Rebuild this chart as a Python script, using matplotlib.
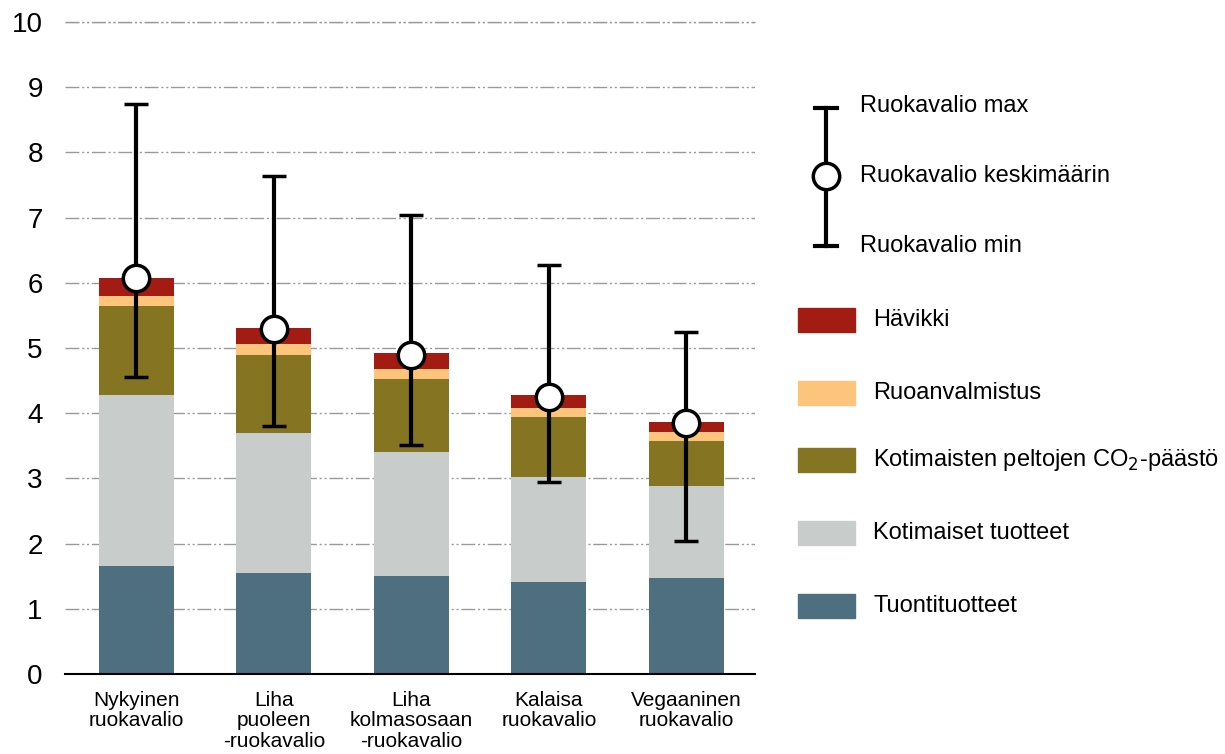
import matplotlib
matplotlib.use('Agg')
import matplotlib.pyplot as plt
import matplotlib.patches as mpatches
import matplotlib.lines as mlines
import numpy as np

plt.rcParams['font.family'] = ['Liberation Sans', 'DejaVu Sans']

# ruokavaliot
categories = ['Nykyinen\nruokavalio', 'Liha\npuoleen\n-ruokavalio', 'Liha\nkolmasosaan\n-ruokavalio',
              'Kalaisa\nruokavalio', 'Vegaaninen\nruokavalio']

# kerrokset alhaalta ylös
tuonti = [1.66, 1.55, 1.50, 1.41, 1.47]
kotimaiset = [2.62, 2.15, 1.90, 1.61, 1.41]
co2 = [1.36, 1.19, 1.12, 0.92, 0.69]
ruoanvalmistus = [0.16, 0.17, 0.16, 0.14, 0.14]
havikki = [0.27, 0.25, 0.24, 0.20, 0.15]

# keskiarvo, min, max
keskiarvo = [6.07, 5.29, 4.89, 4.25, 3.85]
minimi = [4.56, 3.80, 3.51, 2.94, 2.04]
maksimi = [8.74, 7.64, 7.04, 6.27, 5.25]

layer_names = ['Tuontituotteet', 'Kotimaiset tuotteet', 'Kotimaisten peltojen CO$_2$-päästö',
               'Ruoanvalmistus', 'Hävikki']
layer_colors = ['#4e6f80', '#c8cccb', '#857421', '#fdc47b', '#a31c14']

fig = plt.figure(figsize=(12.25, 7.54), dpi=100)
ax = fig.add_axes([65 / 1225, 80 / 754, 690 / 1225, 652 / 754])

x = np.arange(len(categories))
bottom = np.zeros(len(categories))
for vals, col in zip([tuonti, kotimaiset, co2, ruoanvalmistus, havikki], layer_colors):
    ax.bar(x, vals, width=0.545, bottom=bottom, color=col, zorder=2)
    bottom += np.array(vals)

yerr = [np.array(keskiarvo) - np.array(minimi), np.array(maksimi) - np.array(keskiarvo)]
ax.errorbar(x, keskiarvo, yerr=yerr, fmt='o', color='black', ecolor='black', elinewidth=3,
            capsize=8.5, capthick=3, markersize=19, markerfacecolor='white',
            markeredgecolor='black', markeredgewidth=2.5, zorder=3)

ax.set_xlim(-0.52, 4.5)
ax.set_ylim(0, 10)
ax.set_yticks(range(0, 11))
ax.set_xticks(x)
ax.set_xticklabels(categories, fontsize=15, linespacing=1.1)
ax.tick_params(axis='y', length=0, labelsize=20, pad=16)
ax.tick_params(axis='x', length=0, pad=12)
for s in ['top', 'right', 'left']:
    ax.spines[s].set_visible(False)
ax.spines['bottom'].set_linewidth(1.5)
grid_ls = (0, (10, 2, 1.5, 2, 1.5, 2))
ax.yaxis.grid(True, color='#9a9a9a', linewidth=1, linestyle=grid_ls, zorder=0)
ax.set_axisbelow(True)
# 10 gridline at top edge
ax.axhline(10, color='#9a9a9a', linewidth=1, linestyle=grid_ls, clip_on=False, zorder=0)

# legend drawn in pixel coordinates on an overlay
lg = fig.add_axes([0, 0, 1, 1], facecolor='none')
lg.set_xlim(0, 1225)
lg.set_ylim(754, 0)
lg.axis('off')

lx = 826
lg.add_line(mlines.Line2D([lx, lx], [108, 246], color='black', linewidth=3))
lg.add_line(mlines.Line2D([lx - 11, lx + 11], [108, 108], color='black', linewidth=3))
lg.add_line(mlines.Line2D([lx - 11, lx + 11], [246, 246], color='black', linewidth=3))
lg.add_line(mlines.Line2D([lx], [176], marker='o', markersize=19, markerfacecolor='white',
                          markeredgecolor='black', markeredgewidth=2.5, linestyle='none'))
lg.text(860, 106, 'Ruokavalio max', fontsize=17, va='center', ha='left')
lg.text(860, 176, 'Ruokavalio keskimäärin', fontsize=17, va='center', ha='left')
lg.text(860, 246, 'Ruokavalio min', fontsize=17, va='center', ha='left')

ys = [606, 533, 460, 393, 320]
for name, col, yy in zip(layer_names, layer_colors, ys):
    lg.add_patch(mpatches.Rectangle((798, yy - 12), 57, 24, color=col))
    lg.text(873, yy, name, fontsize=17, va='center', ha='left')

fig.savefig('out.png', dpi=100)
